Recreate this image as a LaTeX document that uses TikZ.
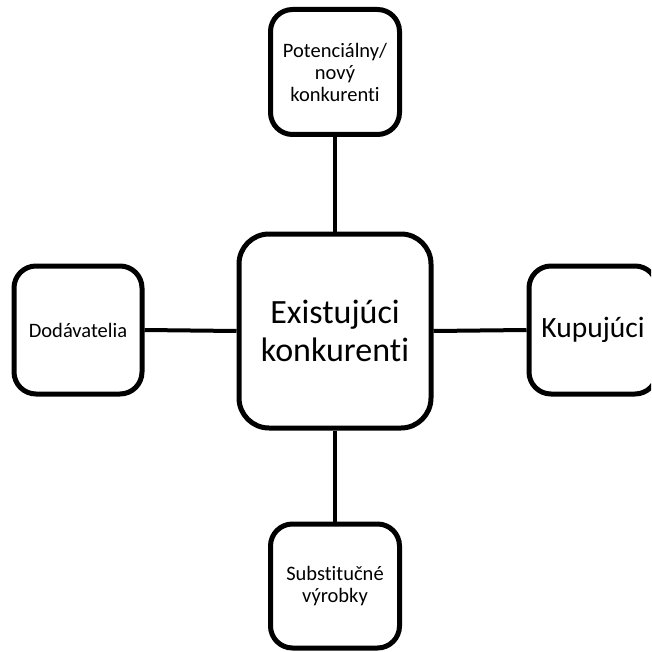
\documentclass[tikz,border=0pt]{standalone}
\usepackage{fontspec}
\setmainfont{Carlito}[RawFeature=-liga]
\begin{document}
\begin{tikzpicture}[x=1pt,y=-1pt,
  box/.style={draw=black, line width=5pt, rounded corners=22pt, fill=white, align=center, inner sep=0pt},
  link/.style={draw=black, line width=4pt}]
\useasboundingbox (0,0) rectangle (651,652);
\clip (0,0) rectangle (651,652);
\node[box, minimum width=129pt, minimum height=125pt, font=\fontsize{20.5}{22}\selectfont] (top) at (335,72) {Potenciálny/\\nový\\konkurenti};
\node[box, minimum width=128pt, minimum height=128pt, font=\fontsize{20.5}{22}\selectfont] (left) at (78,330) {Dodávatelia};
\node[box, minimum width=128pt, minimum height=128pt, font=\fontsize{29.5}{34}\selectfont] (right) at (593,330) {Kupujúci};
\node[box, minimum width=129pt, minimum height=124pt, font=\fontsize{20.5}{22}\selectfont] (bottom) at (335,586) {Substitučné\\výrobky};
\node[box, minimum width=192pt, minimum height=194pt, rounded corners=30pt, font=\fontsize{34}{38}\selectfont] (center) at (335,331) {Existujúci\\konkurenti};
\draw[link] (center.north) -- (top.south);
\draw[link] (center.south) -- (bottom.north);
\draw[link] (center.west) -- (left.east);
\draw[link] (center.east) -- (right.west);
\end{tikzpicture}
\end{document}
